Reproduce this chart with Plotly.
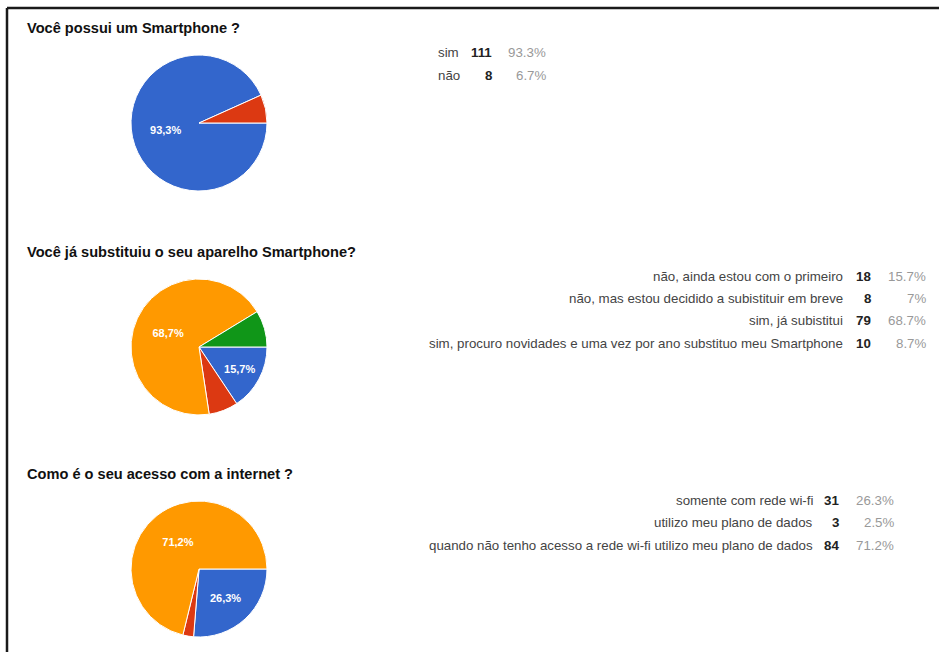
import plotly.graph_objects as go

# Survey answers (counts per option)
q1_title = "Você possui um Smartphone ?"
q1_labels = ["sim", "não"]
q1_counts = [111, 8]

q2_title = "Você já substituiu o seu aparelho Smartphone?"
q2_labels = [
    "não, ainda estou com o primeiro",
    "não, mas estou decidido a subistituir em breve",
    "sim, já subistitui",
    "sim, procuro novidades e uma vez por ano substituo meu Smartphone",
]
q2_counts = [18, 8, 79, 10]

q3_title = "Como é o seu acesso com a internet ?"
q3_labels = [
    "somente com rede wi-fi",
    "utilizo meu plano de dados",
    "quando não tenho acesso a rede wi-fi utilizo meu plano de dados",
]
q3_counts = [31, 3, 84]

slice_colors = ["#3366CC", "#DC3912", "#FF9900", "#109618"]

W, H = 939, 652
FONT = "Arial, 'Liberation Sans', sans-serif"


def px(x):
    return x / W


def py(y):
    return 1 - y / H


def pct_text(count, total):
    s = f"{100 * count / total:.1f}"
    if s.endswith(".0"):
        s = s[:-2]
    return s + "%"


fig = go.Figure()
annotations = []

questions = [
    # title, labels, counts, pie centre y, title y, table rows y, legend layout
    dict(title=q1_title, labels=q1_labels, counts=q1_counts, cy=123, ty=28,
         rows=[53, 75], align="left", lx=436, cx=494, px_=548),
    dict(title=q2_title, labels=q2_labels, counts=q2_counts, cy=347, ty=252,
         rows=[276, 298, 321, 343], align="right", lx=845, cx=873, px_=928),
    dict(title=q3_title, labels=q3_labels, counts=q3_counts, cy=569, ty=474,
         rows=[500, 522, 545], align="right", lx=815, cx=841, px_=896),
]

R = 68
CX = 199

for q in questions:
    total = sum(q["counts"])
    shares = [c / total for c in q["counts"]]
    templates = ["%{percent:.1%}" if s >= 0.1 else "" for s in shares]
    fig.add_trace(go.Pie(
        labels=q["labels"],
        values=q["counts"],
        sort=False,
        direction="clockwise",
        rotation=90,
        marker=dict(colors=slice_colors[:len(q["counts"])],
                    line=dict(color="white", width=1)),
        texttemplate=templates,
        textposition="inside",
        insidetextorientation="horizontal",
        insidetextfont=dict(family=FONT, size=11, color="white", weight="bold"),
        showlegend=False,
        hoverinfo="label+value+percent",
        domain=dict(x=[px(CX - R), px(CX + R)],
                    y=[py(q["cy"] + R), py(q["cy"] - R)]),
    ))

    annotations.append(dict(
        text=f"<b>{q['title']}</b>", x=px(25), y=py(q["ty"]),
        xref="paper", yref="paper", xanchor="left", yanchor="middle",
        showarrow=False, font=dict(family=FONT, size=14.6, color="#111111"),
    ))

    for lab, cnt, ry in zip(q["labels"], q["counts"], q["rows"]):
        annotations.append(dict(
            text=lab, x=px(q["lx"]), y=py(ry), xref="paper", yref="paper",
            xanchor=q["align"], yanchor="middle", showarrow=False,
            font=dict(family=FONT, size=13.3, color="#444444"),
        ))
        annotations.append(dict(
            text=f"<b>{cnt}</b>", x=px(q["cx"]), y=py(ry),
            xref="paper", yref="paper", xanchor="right", yanchor="middle",
            showarrow=False, font=dict(family=FONT, size=13.3, color="#222222"),
        ))
        annotations.append(dict(
            text=pct_text(cnt, total), x=px(q["px_"]), y=py(ry),
            xref="paper", yref="paper", xanchor="right", yanchor="middle",
            showarrow=False, font=dict(family=FONT, size=13.3, color="#999999"),
        ))

# frame lines along the top and left edges
shapes = [
    dict(type="line", xref="paper", yref="paper", x0=px(7), x1=1,
         y0=py(8), y1=py(8), line=dict(color="#1a1a1a", width=2.5)),
    dict(type="line", xref="paper", yref="paper", x0=px(7), x1=px(7),
         y0=py(8), y1=0, line=dict(color="#1a1a1a", width=2.5)),
]

fig.update_layout(
    width=W, height=H,
    margin=dict(l=0, r=0, t=0, b=0),
    paper_bgcolor="white",
    plot_bgcolor="white",
    separators=",.",
    annotations=annotations,
    shapes=shapes,
    font=dict(family=FONT),
)

fig.write_html("out.html")
